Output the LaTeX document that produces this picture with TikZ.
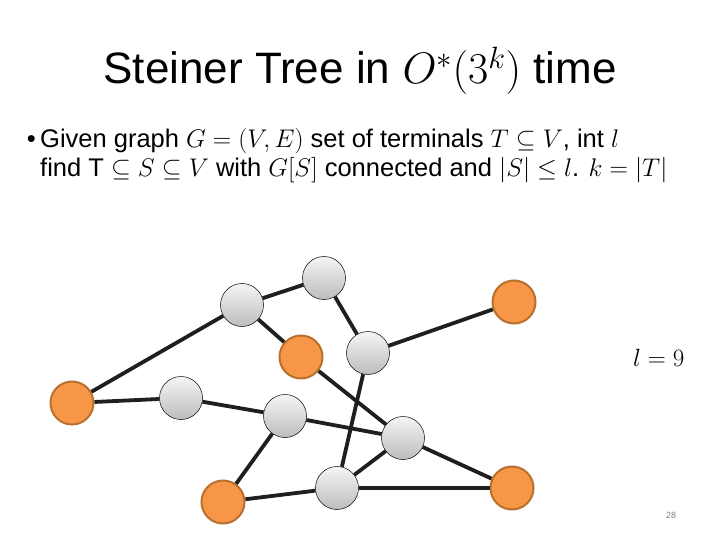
\documentclass[tikz,border=0pt]{standalone}
\usepackage{fix-cm}
\usepackage{fontspec}
\setmainfont{Liberation Sans}
\usepackage{xcolor}
\usetikzlibrary{positioning}

\definecolor{termfill}{HTML}{F79646}
\definecolor{termline}{HTML}{B8702E}

\begin{document}
\begin{tikzpicture}[
      x=1pt, y=-1pt,
      vert/.style={circle, draw=black, line width=0.5pt, minimum size=43pt,
                   inner sep=0pt, top color=black!4, bottom color=black!26},
      term/.style={circle, draw=termline, line width=2pt, minimum size=43pt,
                   inner sep=0pt, fill=termfill},
      edge/.style={line width=3.8pt, black!88},
      body/.style={font=\fontsize{25.5}{30}\selectfont, anchor=base west, inner sep=0pt},
    ]
    \useasboundingbox (0,0) rectangle (720,540);

    % title and text
    \node[font=\fontsize{44}{52}\selectfont, anchor=base, inner sep=0pt] (title) at (360,84)
      {Steiner Tree in $O^*(3^k)$ time};
    \node[body, anchor=base east] (dot) at (36,148) {\textbullet};
    \node[body] (line1) at (40,148)
      {Given graph $G=(V,E)$ set of terminals $T\subseteq V$, int $l$};
    \node[body] (line2) at (40,177)
      {find $\mathrm{T}\subseteq S\subseteq V$ with $G[S]$ connected and $|S|\leq l$. $k=|T|$};
    \node[font=\fontsize{25}{30}\selectfont, anchor=base west, inner sep=0pt] (bound) at (633,366) {$l=9$};
    \node[font=\fontsize{9}{11}\selectfont, text=black!50] (page) at (671,515) {28};

    % terminals
    \node[term] (t1) at (72,403)  {};
    \node[term] (t2) at (301,357) {};
    \node[term] (t3) at (514,302) {};
    \node[term] (t4) at (223,502) {};
    \node[term] (t5) at (512,488) {};

    % other vertices
    \node[vert] (v1) at (242,305) {};
    \node[vert] (v2) at (324,278) {};
    \node[vert] (v3) at (368,353) {};
    \node[vert] (v4) at (181,398) {};
    \node[vert] (v5) at (285,416) {};
    \node[vert] (v6) at (403,438) {};
    \node[vert] (v7) at (337,488) {};

    % edges
    \draw[edge] (t1) -- (v1);
    \draw[edge] (t1) -- (v4);
    \draw[edge] (v1) -- (v2);
    \draw[edge] (v1) -- (t2);
    \draw[edge] (v2) -- (v3);
    \draw[edge] (v3) -- (t3);
    \draw[edge] (v3) -- (v7);
    \draw[edge] (t2) -- (v6);
    \draw[edge] (v4) -- (v5);
    \draw[edge] (v5) -- (v6);
    \draw[edge] (v5) -- (t4);
    \draw[edge] (t4) -- (v7);
    \draw[edge] (v7) -- (v6);
    \draw[edge] (v7) -- (t5);
    \draw[edge] (v6) -- (t5);
  \end{tikzpicture}
\end{document}
